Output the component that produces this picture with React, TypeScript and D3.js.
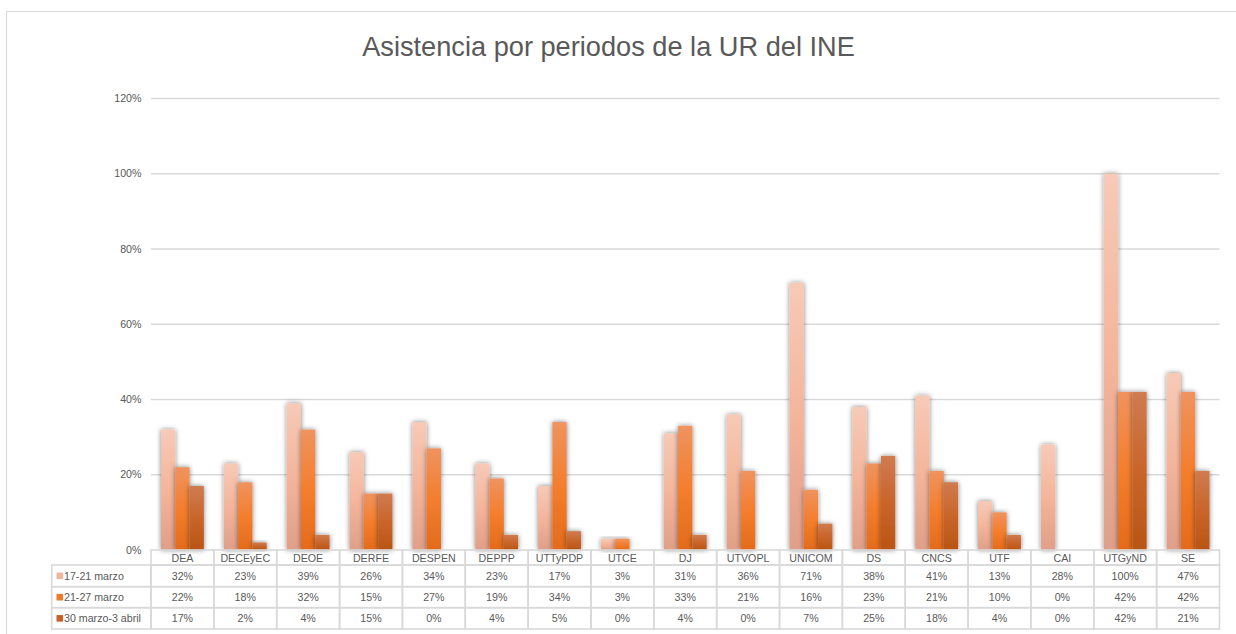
import React from "react";
import * as d3 from "d3";

const categories = ["DEA","DECEyEC","DEOE","DERFE","DESPEN","DEPPP","UTTyPDP","UTCE","DJ","UTVOPL","UNICOM","DS","CNCS","UTF","CAI","UTGyND","SE"];
const seriesNames = ["17-21 marzo","21-27 marzo","30 marzo-3 abril"];
const s1 = [32,23,39,26,34,23,17,3,31,36,71,38,41,13,28,100,47];
const s2 = [22,18,32,15,27,19,34,3,33,21,16,23,21,10,0,42,42];
const s3 = [17,2,4,15,0,4,5,0,4,0,7,25,18,4,0,42,21];
const yTicks = [0,20,40,60,80,100,120];
const title = "Asistencia por periodos de la UR del INE";

const seriesValues = [s1, s2, s3];
const gradStops = [
  ["#F7CAB7", "#F4B59B", "#E09F88"],
  ["#EF935F", "#F47E2D", "#E36B1B"],
  ["#CF7B50", "#C9652A", "#B95514"],
];
const keyColors = ["#F2B49C", "#F07A2C", "#C6612A"];

const FONT = "'Liberation Sans', Arial, sans-serif";
const TXT = "#595959";
const GRID = "#d9d9d9";

export default function App() {
  const left = 151, right = 1219.5, top = 98.5, bottom = 550;
  const y = d3.scaleLinear().domain([0, 120]).range([bottom, top]);
  const x0 = d3.scaleBand<string>().domain(categories).range([left, right]).padding(0);
  const x1 = d3.scaleBand<string>().domain(seriesNames).range([0, x0.bandwidth()]).paddingInner(0).paddingOuter(0.7);
  const rowY = [550, 565, 586.7, 607.7, 629];
  const legendLeft = 51.7;

  return (
    <svg width={1236} height={634} style={{ position: "absolute", left: 0, top: 0, fontFamily: FONT }}>
      <defs>
        {gradStops.map((st, i) => (
          <linearGradient key={i} id={`g${i}`} x1="0" y1="0" x2="0" y2="1">
            <stop offset="0%" stopColor={st[0]} />
            <stop offset="50%" stopColor={st[1]} />
            <stop offset="100%" stopColor={st[2]} />
          </linearGradient>
        ))}
        <filter id="sh" x="-50%" y="-20%" width="200%" height="140%">
          <feDropShadow dx="0" dy="0" stdDeviation="2.4" floodColor="#000" floodOpacity="0.5" />
        </filter>
      </defs>
      <rect x={0} y={0} width={1236} height={634} fill="#fff" />
      <rect x={6.5} y={11.5} width={1240} height={640} fill="none" stroke={GRID} strokeWidth={1} />
      <text x={608.5} y={56} textAnchor="middle" fontSize={27.2} fill={TXT}>{title}</text>

      {yTicks.map((t) => (
        <g key={t}>
          {t > 0 && <line x1={left} x2={right} y1={y(t)} y2={y(t)} stroke={GRID} strokeWidth={1.3} />}
          <text x={141.5} y={y(t)} dy="0.35em" textAnchor="end" fontSize={10.67} fill={TXT}>{t}%</text>
        </g>
      ))}

      {categories.map((c, ci) => (
        <g key={c} transform={`translate(${x0(c)},0)`}>
          {seriesNames.map((s, si) => {
            const v = seriesValues[si][ci];
            if (v <= 0) return null;
            return (
              <rect key={s} x={x1(s)} y={y(v)} width={x1.bandwidth()} height={bottom - y(v)}
                fill={`url(#g${si})`} filter="url(#sh)" />
            );
          })}
        </g>
      ))}

      {/* table */}
      <g fill="none" stroke={GRID} strokeWidth={1.6}>
        {categories.map((c) => (
          <g key={c}>
            {[0,1,2,3].map((r) => (
              <rect key={r} x={x0(c)!} y={rowY[r]} width={x0.bandwidth()} height={rowY[r+1] - rowY[r]} />
            ))}
          </g>
        ))}
        {[1,2,3].map((r) => (
          <rect key={r} x={legendLeft} y={rowY[r]} width={left - legendLeft} height={rowY[r+1] - rowY[r]} />
        ))}
      </g>
      {categories.map((c, ci) => (
        <g key={c} fontSize={10.67} fill={TXT} textAnchor="middle">
          <text x={x0(c)! + x0.bandwidth() / 2} y={(rowY[0] + rowY[1]) / 2 + 1} dy="0.35em">{c}</text>
          {seriesValues.map((vals, si) => (
            <text key={si} x={x0(c)! + x0.bandwidth() / 2} y={(rowY[si + 1] + rowY[si + 2]) / 2} dy="0.35em">{vals[ci]}%</text>
          ))}
        </g>
      ))}
      {seriesNames.map((s, si) => {
        const cy = (rowY[si + 1] + rowY[si + 2]) / 2;
        return (
          <g key={s}>
            <rect x={56.5} y={cy - 3.3} width={6.6} height={6.6} fill={keyColors[si]} />
            <text x={64} y={cy} dy="0.35em" fontSize={10.67} fill={TXT}>{s}</text>
          </g>
        );
      })}
    </svg>
  );
}
